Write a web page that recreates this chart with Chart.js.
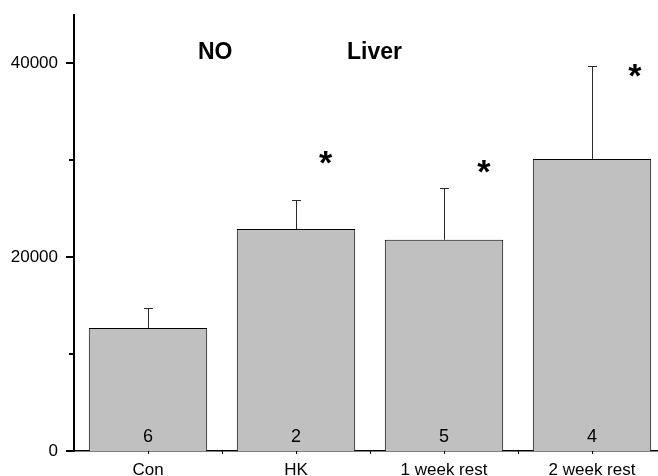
<!DOCTYPE html>
<html>
<head>
<meta charset="utf-8">
<script src="https://cdn.jsdelivr.net/npm/chart.js@4/dist/chart.umd.min.js"></script>
<style>
  html, body { margin: 0; padding: 0; background: #fff; overflow: hidden; }
  #wrap { width: 680px; height: 476px; }
</style>
</head>
<body>
<div id="wrap"><canvas id="chart"></canvas></div>
<script>
const categories = ['Con', 'HK', '1 week rest', '2 week rest'];
const means = [12700, 22900, 21800, 30150];
const errors = [2050, 3050, 5350, 9550];
const nCounts = ['6', '2', '5', '4'];
const significant = [false, true, true, true];
const starLevels = [0, 30050, 29100, 39050];   // value where each star sits
const starShift = [0, 0.2, 0.27, 0.29];          // fraction of category width to the right
const majorTicks = [0, 20000, 40000];
const minorTicks = [10000, 30000];

const FONT = 'Arial, "Liberation Sans", sans-serif';

// error bars, n labels, stars, axis ticks and the two headings
const extras = {
  id: 'extras',
  afterDatasetsDraw(chart) {
    const { ctx, chartArea, scales: { x, y } } = chart;
    const step = x.getPixelForValue(1) - x.getPixelForValue(0);
    ctx.save();

    // error bars (upper only)
    ctx.strokeStyle = '#2a2a2a';
    ctx.lineWidth = 1;
    means.forEach((m, i) => {
      const cx = Math.round(x.getPixelForValue(i)) + 0.5;
      const y0 = y.getPixelForValue(m);
      const y1 = Math.round(y.getPixelForValue(m + errors[i])) + 0.5;
      ctx.beginPath();
      ctx.moveTo(cx, y0);
      ctx.lineTo(cx, y1);
      ctx.moveTo(cx - 4.5, y1);
      ctx.lineTo(cx + 4.5, y1);
      ctx.stroke();
    });

    // n inside bars
    ctx.fillStyle = '#000';
    ctx.font = '18px ' + FONT;
    ctx.textAlign = 'center';
    ctx.textBaseline = 'alphabetic';
    nCounts.forEach((n, i) => {
      ctx.fillText(n, x.getPixelForValue(i), y.getPixelForValue(0) - 9);
    });

    // significance stars
    ctx.font = 'bold 34px ' + FONT;
    significant.forEach((s, i) => {
      if (!s) return;
      const sx = x.getPixelForValue(i) + starShift[i] * step;
      const sy = y.getPixelForValue(starLevels[i]) + 14;
      ctx.fillText('*', sx, sy);
    });

    // y ticks
    ctx.strokeStyle = '#000';
    ctx.lineWidth = 2;
    majorTicks.forEach(v => {
      const ty = Math.round(y.getPixelForValue(v));
      ctx.beginPath();
      ctx.moveTo(chartArea.left - 8, ty);
      ctx.lineTo(chartArea.left, ty);
      ctx.stroke();
    });
    minorTicks.forEach(v => {
      const ty = Math.round(y.getPixelForValue(v));
      ctx.beginPath();
      ctx.moveTo(chartArea.left - 5, ty);
      ctx.lineTo(chartArea.left, ty);
      ctx.stroke();
    });

    // x ticks at centres and boundaries
    ctx.lineWidth = 1;
    const by = chartArea.bottom;
    categories.forEach((c, i) => {
      const cx = x.getPixelForValue(i);
      [cx, cx + step / 2].forEach(px => {
        ctx.beginPath();
        ctx.moveTo(Math.round(px) + 0.5, by);
        ctx.lineTo(Math.round(px) + 0.5, by + 3);
        ctx.stroke();
      });
    });

    // headings
    ctx.font = 'bold 23px ' + FONT;
    ctx.textAlign = 'left';
    ctx.fillText('NO', chartArea.left + 124, 59);
    ctx.fillText('Liver', chartArea.left + 273, 59);

    ctx.restore();
  }
};

new Chart(document.getElementById('chart'), {
  type: 'bar',
  data: {
    labels: categories,
    datasets: [{
      data: means,
      backgroundColor: '#c0c0c0',
      borderColor: '#000',
      borderWidth: 1,
      borderSkipped: 'bottom',
      barPercentage: 0.8,
      categoryPercentage: 1
    }]
  },
  options: {
    responsive: true,
    maintainAspectRatio: false,
    animation: false,
    layout: { padding: { top: 15, right: 14, left: 0, bottom: 0 } },
    plugins: { legend: { display: false }, tooltip: { enabled: false } },
    scales: {
      x: {
        grid: { display: false },
        border: { display: true, color: '#000', width: 1.5 },
        ticks: { color: '#000', font: { family: FONT, size: 17 }, padding: 1, maxRotation: 0 },
        afterFit: s => { s.height = 25; s.paddingLeft = 0; s.paddingRight = 0; }
      },
      y: {
        min: 0,
        max: 45000,
        grid: { display: false },
        border: { display: true, color: '#000', width: 2 },
        ticks: { color: '#000', font: { family: FONT, size: 17 }, padding: 8, stepSize: 10000,
                 callback: v => String(v) },
        afterBuildTicks: s => { s.ticks = majorTicks.map(v => ({ value: v })); },
        afterFit: s => { s.width = 74; s.paddingTop = 0; s.paddingBottom = 0; }
      }
    }
  },
  plugins: [extras]
});
</script>
</body>
</html>
